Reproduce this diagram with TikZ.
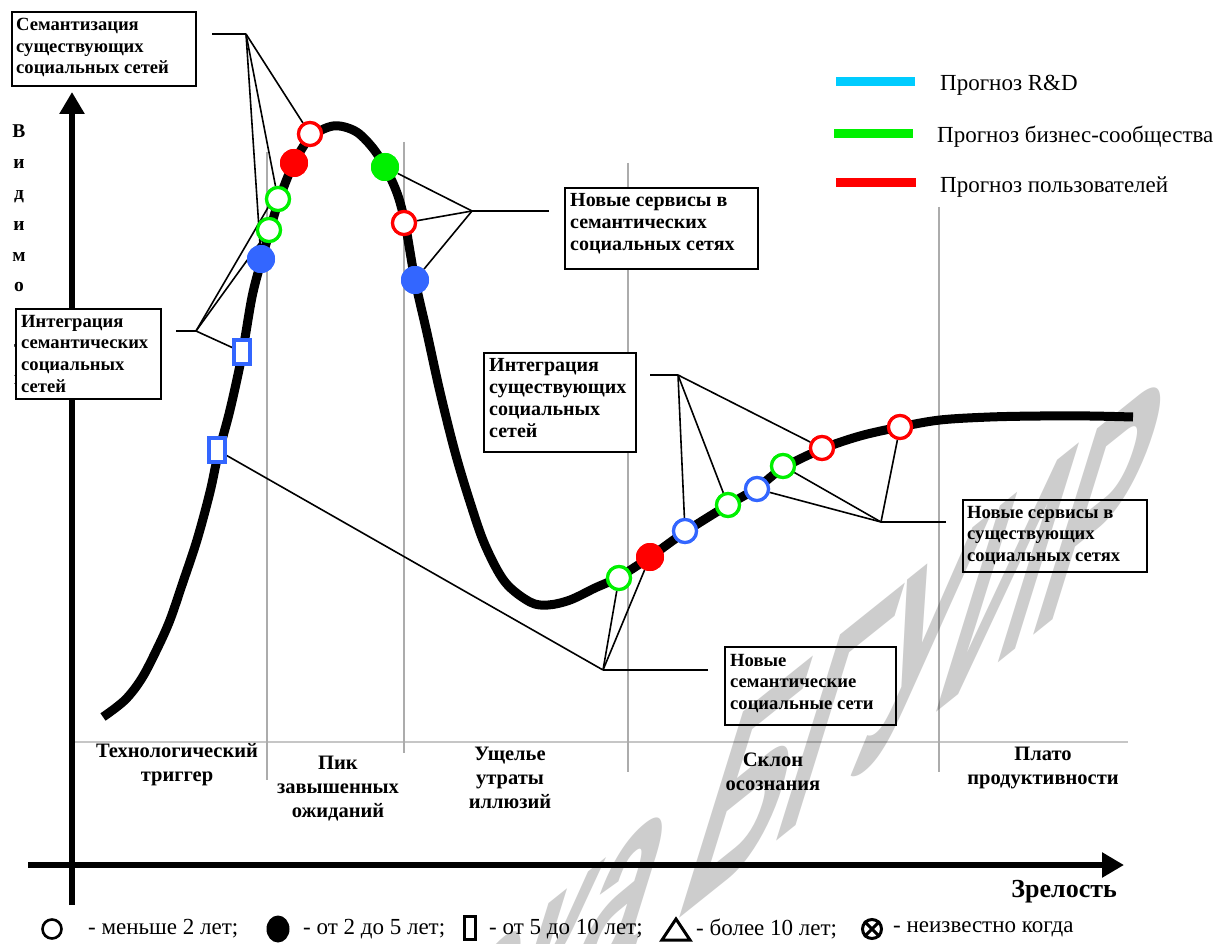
\documentclass[tikz,border=0pt]{standalone}
\usepackage{fontspec}
\setmainfont{Liberation Serif}
\newfontfamily\wmfont{Liberation Sans}
\usetikzlibrary{arrows.meta,shapes.geometric}
\definecolor{mred}{RGB}{255,0,0}
\definecolor{mgreen}{RGB}{0,240,0}
\definecolor{mblue}{RGB}{51,102,255}
\definecolor{mcyan}{RGB}{0,204,255}
\definecolor{wm}{RGB}{205,205,205}
\begin{document}
\begin{tikzpicture}[x=1pt,y=-1pt,
  boxframe/.style={draw=black, line width=1.8pt, fill=white, anchor=north west, inner sep=0pt},
  boxtext/.style={anchor=north west, inner sep=0pt, align=left, font=\bfseries\fontsize{18.6}{21.6}\selectfont},
  boxtextw/.style={anchor=north west, inner sep=0pt, align=left, font=\bfseries\fontsize{20}{22}\selectfont},
  phase/.style={align=center, font=\bfseries\fontsize{20.5}{24}\selectfont},
  legtext/.style={anchor=west, inner sep=0pt, font=\fontsize{23}{26}\selectfont},
  openm/.style={circle, draw=#1, fill=white, line width=3.2pt, minimum size=23pt, inner sep=0pt},
  fillm/.style={circle, fill=#1, minimum size=28pt, inner sep=0pt},
  rectm/.style={rectangle, draw=mblue, fill=white, line width=3.2pt, minimum width=16pt, minimum height=24pt, inner sep=0pt},
  leader/.style={draw=black, line width=1.6pt},
  gridv/.style={draw=gray!65, line width=1.6pt},
  axis/.style={draw=black, line width=6pt, -{Triangle[width=24pt,length=22pt]}}
]
\useasboundingbox (0,0) rectangle (1218,944);
\fill[white] (0,0) rectangle (1218,944);

% grid lines
\draw[draw=gray!45, line width=2pt] (75,742) -- (1128,742);
\draw[gridv] (267,152) -- (267,780);
\draw[gridv] (404,142) -- (404,753);
\draw[gridv] (628,163) -- (628,772);
\draw[gridv] (939,207) -- (939,772);

% axes
\coordinate (ybot) at (72,905);
\coordinate (ytop) at (72,92);
\coordinate (xl) at (28,865);
\coordinate (xr) at (1124,865);
\draw[axis] (ybot) -- (ytop);
\draw[axis] (xl) -- (xr);

% vertical axis label
\node[anchor=north, align=center, font=\bfseries\fontsize{19.5}{30.8}\selectfont, inner sep=0pt] (ylab) at (19,125) {В\\и\\д\\и\\м\\о\\с\\т\\ь};

% hype curve
\draw[line width=9pt, line cap=butt, line join=round] plot[smooth, tension=0.55] coordinates {
(103,717) (125,700) (142,678) (158,647) (170,620) (182,585) (197,540) (210,492) (218,455) (230,410) (242,355) (252,297) (261,262) (270,230) (279,200) (293,165) (310,138) (333,126) (355,131) (372,147) (385,167) (397,193) (405,223) (415,280) (427,333) (440,392) (455,452) (470,502) (485,545) (505,582) (530,602) (548,605) (570,600) (595,588) (619,577) (650,557) (685,532) (728,505) (757,488) (783,468) (822,449) (860,436) (900,427) (940,420) (990,417) (1040,416) (1090,416) (1133,417)};

% boxes
\node[boxframe, minimum width=184pt, minimum height=74pt] (b1) at (11,11) {};
\node[boxtext] (t1) at ([xshift=5pt,yshift=-7pt]b1.north west) {Семантизация\\существующих\\социальных сетей};
\node[boxframe, minimum width=145pt, minimum height=90pt] (b2) at (15,308) {};
\node[boxtext] (t2) at ([xshift=6pt,yshift=-7pt]b2.north west) {Интеграция\\семантических\\социальных\\сетей};
\node[boxframe, minimum width=193pt, minimum height=81pt] (b3) at (564,187) {};
\node[boxtextw] (t3) at ([xshift=6pt,yshift=-6pt]b3.north west) {Новые сервисы в\\семантических\\социальных сетях};
\node[boxframe, minimum width=152pt, minimum height=99pt] (b4) at (483,352) {};
\node[boxtextw] (t4) at ([xshift=6pt,yshift=-6pt]b4.north west) {Интеграция\\существующих\\социальных\\сетей};
\node[boxframe, minimum width=184pt, minimum height=72pt] (b5) at (962,499) {};
\node[boxtext] (t5) at ([xshift=5pt,yshift=-7pt]b5.north west) {Новые сервисы в\\существующих\\социальных сетях};
\node[boxframe, minimum width=171pt, minimum height=78pt] (b6) at (724,646) {};
\node[boxtext] (t6) at ([xshift=6pt,yshift=-8pt]b6.north west) {Новые\\семантические\\социальные сети};

% hubs and stubs
\coordinate (h1) at (246,34);  \coordinate (s1) at (212,34);
\coordinate (h2) at (196,331); \coordinate (s2) at (176,331);
\coordinate (h3) at (472,211); \coordinate (s3) at (549,211);
\coordinate (h4) at (678,375); \coordinate (s4) at (650,375);
\coordinate (h5) at (881,522); \coordinate (s5) at (946,522);
\coordinate (h6) at (603,670); \coordinate (s6) at (708,670);

\path
 (310,134) coordinate (ro1c) (294,163) coordinate (rf1c) (278,199) coordinate (go1c)
 (269,230) coordinate (go2c) (261,259) coordinate (bf1c) (242,352) coordinate (br1c)
 (217,450) coordinate (br2c) (385,167) coordinate (gf1c) (404,223) coordinate (ro2c)
 (415,280) coordinate (bf2c) (619,578) coordinate (go3c) (650,557) coordinate (rf2c)
 (685,531) coordinate (bo1c) (728,505) coordinate (go4c) (757,489) coordinate (bo2c)
 (783,466) coordinate (go5c) (822,448) coordinate (ro3c) (900,427) coordinate (ro4c);

\node[openm=mred] (ro1) at (ro1c) {};
\node[fillm=mred] (rf1) at (rf1c) {};
\node[openm=mgreen] (go1) at (go1c) {};
\node[openm=mgreen] (go2) at (go2c) {};
\node[fillm=mblue] (bf1) at (bf1c) {};
\node[rectm] (br1) at (br1c) {};
\node[rectm] (br2) at (br2c) {};
\node[fillm=mgreen] (gf1) at (gf1c) {};
\node[openm=mred] (ro2) at (ro2c) {};
\node[fillm=mblue] (bf2) at (bf2c) {};
\node[openm=mgreen] (go3) at (go3c) {};
\node[fillm=mred] (rf2) at (rf2c) {};
\node[openm=mblue] (bo1) at (bo1c) {};
\node[openm=mgreen] (go4) at (go4c) {};
\node[openm=mblue] (bo2) at (bo2c) {};
\node[openm=mgreen] (go5) at (go5c) {};
\node[openm=mred] (ro3) at (ro3c) {};
\node[openm=mred] (ro4) at (ro4c) {};

% leaders
\draw[leader] (s1) -- (h1);
\draw[leader] (h1) -- (ro1); \draw[leader] (h1) -- (go1); \draw[leader] (h1) -- (bf1);
\draw[leader] (s2) -- (h2);
\draw[leader] (h2) -- (rf1); \draw[leader] (h2) -- (go2); \draw[leader] (h2) -- (br1);
\draw[leader] (s3) -- (h3);
\draw[leader] (h3) -- (gf1); \draw[leader] (h3) -- (ro2); \draw[leader] (h3) -- (bf2);
\draw[leader] (s4) -- (h4);
\draw[leader] (h4) -- (bo1); \draw[leader] (h4) -- (go4); \draw[leader] (h4) -- (ro3);
\draw[leader] (s5) -- (h5);
\draw[leader] (h5) -- (bo2); \draw[leader] (h5) -- (go5); \draw[leader] (h5) -- (ro4);
\draw[leader] (s6) -- (h6);
\draw[leader] (h6) -- (go3); \draw[leader] (h6) -- (rf2); \draw[leader] (h6) -- (br2);

% redraw markers on top of leaders
\node[openm=mred] at (ro1c) {};
\node[fillm=mred] at (rf1c) {};
\node[openm=mgreen] at (go1c) {};
\node[openm=mgreen] at (go2c) {};
\node[fillm=mblue] at (bf1c) {};
\node[rectm] at (br1c) {};
\node[rectm] at (br2c) {};
\node[fillm=mgreen] at (gf1c) {};
\node[openm=mred] at (ro2c) {};
\node[fillm=mblue] at (bf2c) {};
\node[openm=mgreen] at (go3c) {};
\node[fillm=mred] at (rf2c) {};
\node[openm=mblue] at (bo1c) {};
\node[openm=mgreen] at (go4c) {};
\node[openm=mblue] at (bo2c) {};
\node[openm=mgreen] at (go5c) {};
\node[openm=mred] at (ro3c) {};
\node[openm=mred] at (ro4c) {};

% top legend
\draw[line width=9pt, mcyan] (836,82) -- (915,82);
\draw[line width=9pt, mgreen] (834,134) -- (913,134);
\draw[line width=9pt, mred] (836,183) -- (916,183);
\node[legtext] (lg1) at (940,85) {Прогноз R\&D};
\node[legtext] (lg2) at (937,137) {Прогноз бизнес-сообщества};
\node[legtext] (lg3) at (940,187) {Прогноз пользователей};

% phase labels
\node[phase] (p1) at (177,765) {Технологический\\триггер};
\node[phase] (p2) at (338,789) {Пик\\завышенных\\ожиданий};
\node[phase] (p3) at (510,778) {Ущелье\\утраты\\иллюзий};
\node[phase] (p4) at (773,772) {Склон\\осознания};
\node[phase] (p5) at (1043,768) {Плато\\продуктивности};
\node[anchor=east, inner sep=0pt, font=\bfseries\fontsize{26}{28}\selectfont] (xlab) at (1117,892) {Зрелость};

% bottom legend
\node[circle, draw=black, line width=2.6pt, minimum size=19pt, inner sep=0pt] (k1) at (52,929) {};
\node[legtext] (k1t) at (88,929) {- меньше 2 лет;};
\node[ellipse, fill=black, minimum width=23pt, minimum height=27pt, inner sep=0pt] (k2) at (278,929) {};
\node[legtext] (k2t) at (303,929) {- от 2 до 5 лет;};
\node[rectangle, draw=black, line width=3pt, minimum width=11pt, minimum height=23pt, inner sep=0pt] (k3) at (470,928) {};
\node[legtext] (k3t) at (489,929) {- от 5 до 10 лет;};
\draw[line width=3pt, line join=miter] (662,940) -- (690,940) -- (676,919) -- cycle;
\coordinate (k4) at (676,931);
\node[legtext] (k4t) at (696,929) {- более 10 лет;};
\node[circle, draw=black, line width=3pt, minimum size=19pt, inner sep=0pt] (k5) at (872,929) {};
\draw[line width=3pt] (k5.north west) -- (k5.south east) (k5.north east) -- (k5.south west);
\node[legtext] (k5t) at (893,929) {- неизвестно когда};

% watermark (multiplied over the drawing)
\begin{scope}[blend mode=multiply]
\clip (0,0) rectangle (1218,944);
\node[text=wm, cm={0.9,0.72,0.62,2.0,(0,0)}, anchor=base east, font=\wmfont\bfseries\fontsize{150}{150}\selectfont, inner sep=0pt] (wmark) at (1115,570) {Библиотека БГУИР};
\end{scope}
\end{tikzpicture}
\end{document}
